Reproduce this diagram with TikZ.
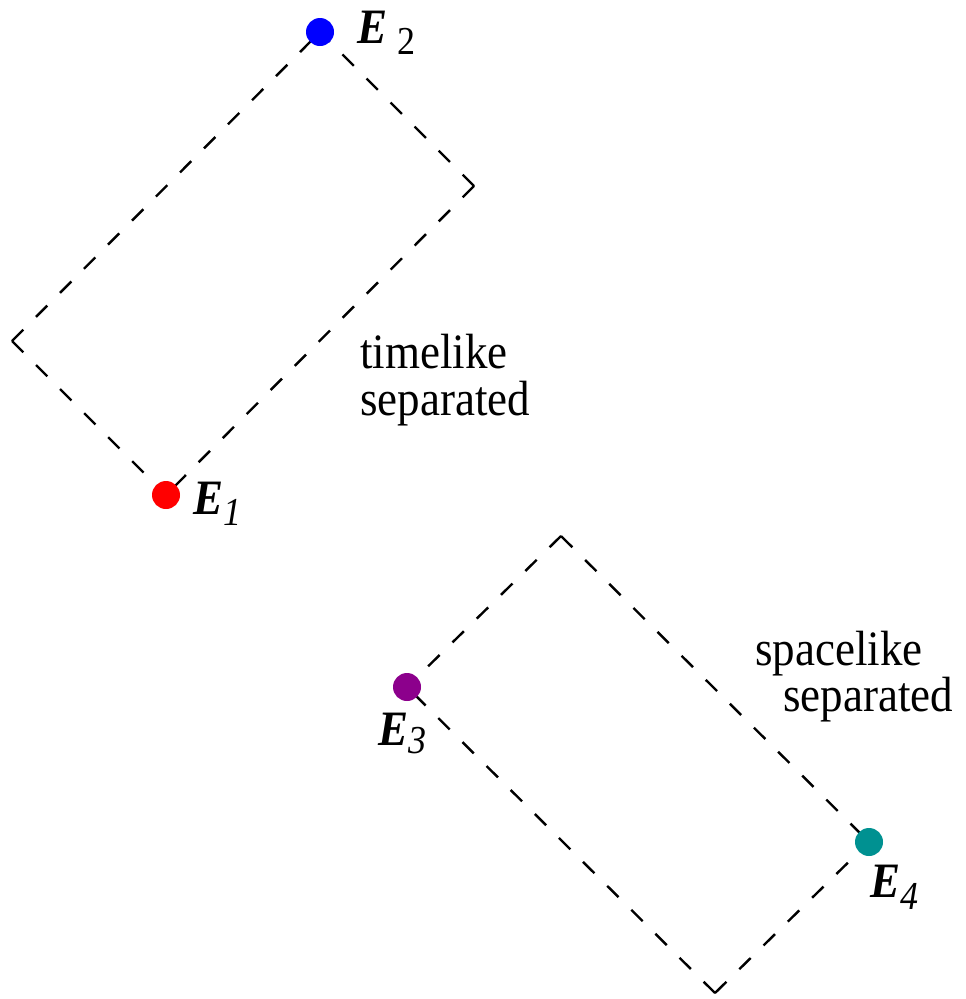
\documentclass[tikz,border=0pt]{standalone}
\usepackage{fontspec}
\setmainfont{Liberation Serif}
\definecolor{dotpurple}{RGB}{140,0,140}
\definecolor{dotteal}{RGB}{0,145,145}
\newcommand{\tallbox}[1]{\scalebox{1}[1.1]{#1}}
\newcommand{\evsub}[2]{\raisebox{#1}{\fontsize{36}{36}\selectfont\mdseries #2}}
\begin{document}
\begin{tikzpicture}[x=1pt,y=-1pt,
  cone/.style={line width=2.4pt, dash pattern=on 16pt off 18pt},
  event/.style={circle, fill=#1, minimum size=28pt, inner sep=0pt},
  elabel/.style={anchor=base west, inner sep=0pt, font=\fontsize{45}{45}\selectfont\bfseries\itshape},
  note/.style={anchor=base west, inner sep=0pt}]
\useasboundingbox (0,0) rectangle (966,999);
% event positions and the corners of the light-cone rectangles
\coordinate (p1) at (166,495);
\coordinate (p2) at (320,32);
\coordinate (r1) at (474,186);
\coordinate (l1) at (12,341);
\coordinate (p3) at (407,687);
\coordinate (p4) at (869,842);
\coordinate (t2) at (561,536);
\coordinate (b2) at (715,993);
% light-cone rectangles; every side starts at its corner so the corners show
\draw[cone] (r1) -- (p1) (r1) -- (p2) (l1) -- (p2) (l1) -- (p1);
\draw[cone] (t2) -- (p3) (t2) -- (p4) (b2) -- (p3) (b2) -- (p4);
% events
\node[event=blue] (e2) at (p2) {};
\node[event=red] (e1) at (p1) {};
\node[event=dotpurple] (e3) at (p3) {};
\node[event=dotteal] (e4) at (p4) {};
% event labels
\node[elabel] (le2) at (357,43) {\tallbox{E\hspace{10pt}\evsub{-10pt}{\upshape 2}}};
\node[elabel] (le1) at (193,514) {\tallbox{E\evsub{-10pt}{1}}};
\node[elabel] (le3) at (378,745) {\tallbox{E\evsub{-8pt}{3}}};
\node[elabel] (le4) at (870,897) {\tallbox{E\evsub{-11pt}{4}}};
% separation notes (first line baseline at the node position)
\node[note, font=\fontsize{45}{44}\selectfont] (n1) at (360,368)
  {\begin{tabular}[t]{@{}l@{}}\tallbox{timelike}\\\tallbox{separated}\end{tabular}};
\node[note, font=\fontsize{45}{40}\selectfont] (n2) at (755,665)
  {\begin{tabular}[t]{@{}l@{}}\tallbox{spacelike}\\\hspace*{28pt}\tallbox{separated}\end{tabular}};
\end{tikzpicture}
\end{document}
